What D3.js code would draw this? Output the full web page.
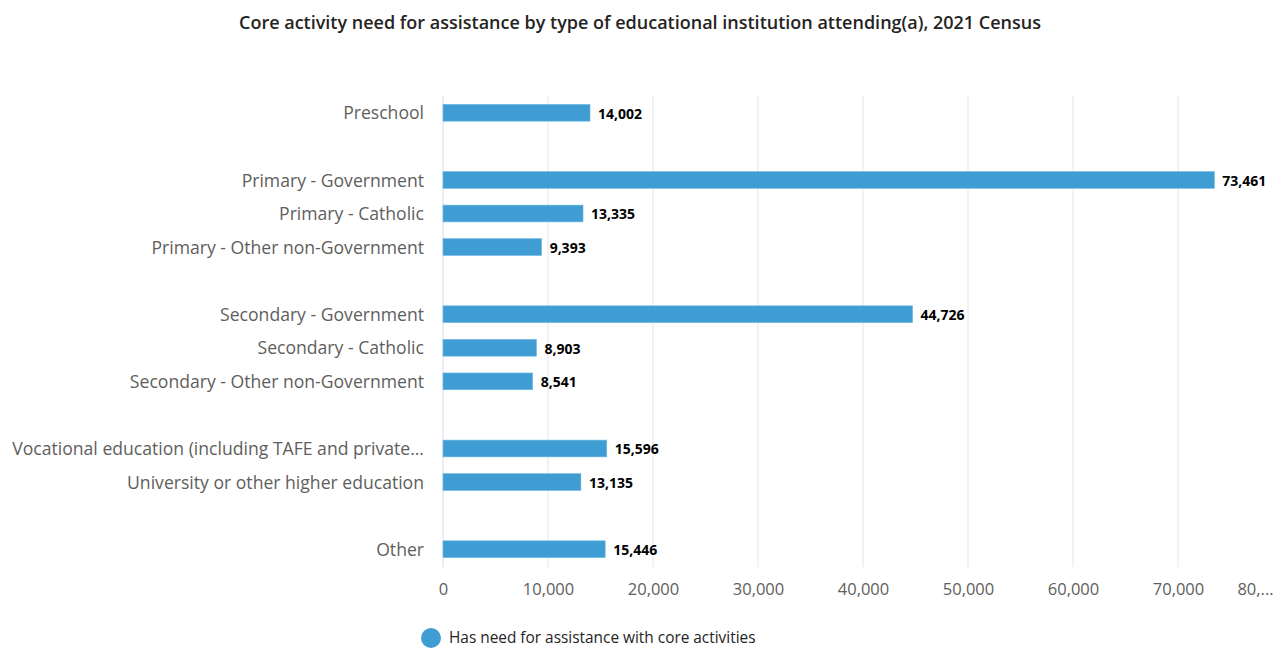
<!DOCTYPE html>
<html>
<head>
<meta charset="utf-8">
<script src="https://cdn.jsdelivr.net/npm/d3@7"></script>
<style>
  body { margin: 0; background: #fff; }
  svg { font-family: "Open Sans", "Noto Sans", sans-serif; }
</style>
</head>
<body>
<svg id="chart" width="1273" height="650"></svg>
<script>
// blank entries are the spacer rows between groups
const categories = [
    "Preschool", "",
    "Primary - Government", "Primary - Catholic", "Primary - Other non-Government", "",
    "Secondary - Government", "Secondary - Catholic", "Secondary - Other non-Government", "",
    "Vocational education (including TAFE and private...", "University or other higher education", "",
    "Other"
];
const values = [
    14002, null,
    73461, 13335, 9393, null,
    44726, 8903, 8541, null,
    15596, 13135, null,
    15446
];
const xTicks = [0, 10000, 20000, 30000, 40000, 50000, 60000, 70000, 80000];
const seriesName = "Has need for assistance with core activities";
const title = "Core activity need for assistance by type of educational institution attending(a), 2021 Census";

const svg = d3.select("#chart");
const barColor = "#3f9dd3";

const x = d3.scaleLinear()
    .domain([0, 80000])
    .range([443, 1283]);

const y = d3.scaleBand()
    .domain(d3.range(categories.length))
    .range([96, 566])
    .paddingInner(0.5)
    .paddingOuter(0.25);

// title
svg.append("text")
    .attr("x", 640)
    .attr("y", 29)
    .attr("text-anchor", "middle")
    .style("font-size", "18px")
    .style("font-weight", "600")
    .style("fill", "#252423")
    .text(title);

// gridlines
svg.append("g")
    .selectAll("line")
    .data(xTicks.slice(1))
    .enter().append("line")
    .attr("x1", d => x(d))
    .attr("x2", d => x(d))
    .attr("y1", 96)
    .attr("y2", 567)
    .style("stroke", "#e6e6e6")
    .style("stroke-width", 1);

svg.append("line")
    .attr("x1", x(0))
    .attr("x2", x(0))
    .attr("y1", 96)
    .attr("y2", 567)
    .style("stroke", "#d3dcf0")
    .style("stroke-width", 1);

// x axis labels
const xAxis = d3.axisBottom(x)
    .tickValues(xTicks)
    .tickSize(0)
    .tickPadding(0)
    .tickFormat(d => d === 80000 ? "80,..." : d3.format(",")(d));

svg.append("g")
    .attr("transform", "translate(0,583)")
    .call(xAxis)
    .call(g => g.select(".domain").remove())
    .selectAll("text")
    .attr("dy", "0.71em")
    .style("font-family", "\"Open Sans\", \"Noto Sans\", sans-serif")
    .style("font-size", "16.5px")
    .style("fill", "#605e5c")
    .attr("x", d => d === 80000 ? -28 : 0);

// category labels
const yAxis = d3.axisLeft(y)
    .tickSize(0)
    .tickPadding(0)
    .tickFormat(i => categories[i]);

svg.append("g")
    .attr("transform", "translate(424,0)")
    .call(yAxis)
    .call(g => g.select(".domain").remove())
    .selectAll("text")
    .attr("dy", "0.38em")
    .style("font-family", "\"Open Sans\", \"Noto Sans\", sans-serif")
    .style("font-size", "17.6px")
    .style("fill", "#605e5c");

const rows = values.map((v, i) => ({ i: i, value: v })).filter(d => d.value !== null);

// bars
svg.append("g")
    .selectAll("rect")
    .data(rows)
    .enter().append("rect")
    .attr("x", x(0))
    .attr("y", d => y(d.i))
    .attr("width", d => x(d.value) - x(0))
    .attr("height", y.bandwidth())
    .style("fill", barColor)
    .style("stroke", "#6fb8e3")
    .style("stroke-width", 0.6);

// value labels
svg.append("g")
    .selectAll("text")
    .data(rows)
    .enter().append("text")
    .attr("x", d => x(d.value) + 8)
    .attr("y", d => y(d.i) + y.bandwidth() / 2 + 1)
    .attr("dy", "0.35em")
    .style("font-size", "14px")
    .style("font-weight", "bold")
    .style("fill", "#000")
    .text(d => d3.format(",")(d.value));

// legend
const legend = svg.append("g");
legend.append("circle")
    .attr("cx", 431)
    .attr("cy", 638)
    .attr("r", 10)
    .style("fill", barColor);
legend.append("text")
    .attr("x", 449)
    .attr("y", 643)
    .style("font-size", "15.4px")
    .style("font-weight", "500")
    .style("fill", "#252423")
    .text(seriesName);
</script>
</body>
</html>
